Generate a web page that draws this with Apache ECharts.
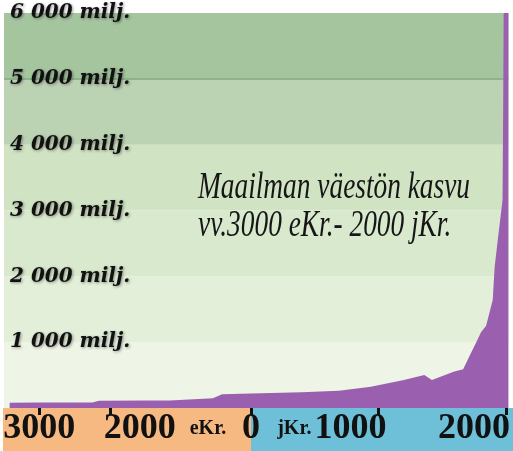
<!DOCTYPE html>
<html>
<head>
<meta charset="utf-8">
<script src="https://cdn.jsdelivr.net/npm/echarts@6/dist/echarts.min.js"></script>
<style>
  html, body { margin: 0; padding: 0; background: #fff; }
  #chart { width: 513px; height: 451px; }
</style>
</head>
<body>
<div id="chart"></div>
<script>
// population in millions, years before / after year 0
const bcYears = [-3420, -3000, -2250, -2150, -1500, -1150, -540, -410, 0];
const bcPop = [80, 82, 85, 110, 115, 115, 147, 208, 220];
const adYears = [0, 400, 690, 940, 1200, 1360, 1420, 1590, 1665, 1712, 1766, 1805, 1845, 1897, 1912, 1943, 1974, 1979, 1983, 2020];
const adPop = [220, 238, 263, 324, 425, 500, 425, 552, 590, 780, 990, 1150, 1250, 1640, 2140, 2660, 3160, 4600, 6000, 6000];

// x axis ticks and labels
const bcTickYears = [-3000, -2000, 0];
const bcLabelYears = [-3000, -1575, -610, 0];
const bcLabelTexts = ['3000', '2000', 'eKr.', '0'];
const adTickYears = [1000, 2000];
const adLabelYears = [340, 780, 1750];
const adLabelTexts = ['jKr.', '1000', '2000'];

const titleLines = ['Maailman väestön kasvu', 'vv.3000 eKr.- 2000 jKr.'];

const bandColors = ['#eef5e6', '#e3efd9', '#d9e9cd', '#d0e3c3', '#bcd3b3', '#a5c59f', '#a5c59f'];
const lineColors = ['rgba(0,0,0,0)', 'rgba(0,0,0,0)', 'rgba(0,0,0,0)', 'rgba(0,0,0,0)', 'rgba(0,0,0,0)', '#82a87f', 'rgba(0,0,0,0)'];
const purple = '#9a5fae';

const chart = echarts.init(document.getElementById('chart'), null, {renderer: 'canvas'});

function yAxis(gridIndex, showLabels) {
    return {
        type: 'value',
        gridIndex: gridIndex,
        min: 0,
        max: 6000,
        interval: 1000,
        axisLine: {show: false},
        axisTick: {show: false},
        splitArea: {show: true, areaStyle: {color: bandColors}},
        splitLine: {show: true, lineStyle: {color: lineColors, width: 1.5}},
        axisLabel: {
            show: showLabels,
            inside: true,
            margin: 6,
            verticalAlign: 'middle',
            padding: [0, 0, 7, 0],
            fontFamily: 'DejaVu Serif',
            fontStyle: 'italic',
            fontWeight: 'bold',
            fontSize: 20,
            color: '#111',
            textShadowColor: 'rgba(0,0,0,0.4)',
            textShadowBlur: 3,
            textShadowOffsetX: 1,
            textShadowOffsetY: 1,
            formatter: function (v) {
                return v > 0 ? (v / 1000) + ' 000 milj.' : '';
            }
        }
    };
}

function xAxis(gridIndex, min, max, tickYears, labelYears, labelTexts) {
    return {
        type: 'value',
        gridIndex: gridIndex,
        min: min,
        max: max,
        splitLine: {show: false},
        axisLine: {show: false},
        axisTick: {
            show: true,
            customValues: tickYears,
            length: 7,
            lineStyle: {color: '#111', width: 3}
        },
        axisLabel: {
            customValues: labelYears,
            margin: 21,
            verticalAlign: 'middle',
            fontFamily: 'Liberation Serif',
            fontWeight: 'bold',
            fontSize: 36,
            color: '#111',
            formatter: function (v) {
                const t = labelTexts[labelYears.indexOf(v)];
                return t && t.indexOf('Kr') >= 0 ? '{s|' + t + '}' : t;
            },
            rich: {
                s: {fontFamily: 'Liberation Serif', fontWeight: 'bold', fontSize: 20, color: '#111'}
            }
        }
    };
}

const option = {
    animation: false,
    backgroundColor: '#fff',
    grid: [
        {left: 4, right: 262, top: 13, bottom: 43},
        {left: 251, right: 0, top: 13, bottom: 43}
    ],
    xAxis: [
        xAxis(0, -3500, 0, bcTickYears, bcLabelYears, bcLabelTexts),
        xAxis(1, 0, 2020, adTickYears, adLabelYears, adLabelTexts)
    ],
    yAxis: [yAxis(0, true), yAxis(1, false)],
    series: [
        {
            type: 'line',
            xAxisIndex: 0,
            yAxisIndex: 0,
            data: bcYears.map((y, i) => [y, bcPop[i]]),
            showSymbol: false,
            lineStyle: {width: 0},
            areaStyle: {color: purple, opacity: 1},
            z: 3
        },
        {
            type: 'line',
            xAxisIndex: 1,
            yAxisIndex: 1,
            data: adYears.map((y, i) => [y, adPop[i]]),
            showSymbol: false,
            lineStyle: {width: 0},
            areaStyle: {color: purple, opacity: 1},
            z: 3
        }
    ],
    graphic: [
        {type: 'rect', z: -10, left: 3, bottom: 0, shape: {width: 248, height: 43}, style: {fill: '#f6b982'}},
        {type: 'rect', z: -10, left: 251, bottom: 0, shape: {width: 262, height: 43}, style: {fill: '#6dc0d8'}},
        {
            type: 'group',
            x: 198,
            y: 0,
            scaleX: 0.72,
            z: 100,
            children: titleLines.map((t, i) => ({
                type: 'text',
                z: 100,
                x: 0,
                y: 188 + i * 38,
                style: {
                    text: t,
                    fontFamily: 'Liberation Serif',
                    fontStyle: 'italic',
                    fontSize: 38,
                    fill: '#161616',
                    align: 'left',
                    verticalAlign: 'middle'
                }
            }))
        }
    ]
};

chart.setOption(option);
</script>
</body>
</html>
